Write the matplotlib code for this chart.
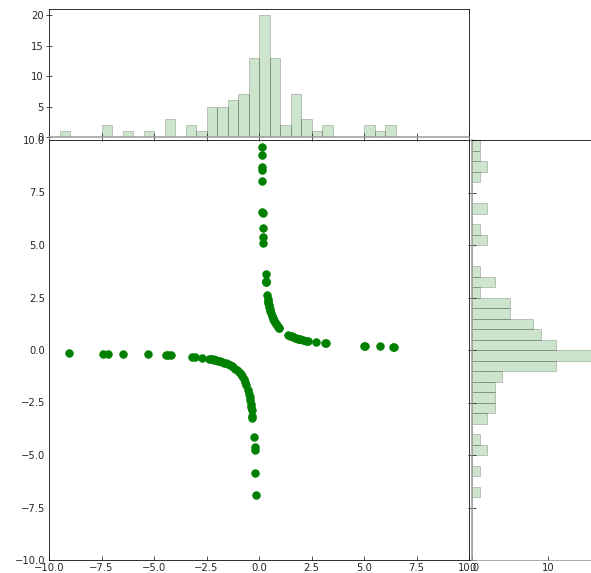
import matplotlib

matplotlib.use('Agg')
import matplotlib.pyplot as plt
import numpy as np
from matplotlib.ticker import MultipleLocator

# points (upper right branch, then lower left branch)
x_pos = [
    0.13, 0.13, 0.13, 0.14, 0.13, 0.16, 0.19, 0.20, 0.20, 0.20,
    0.32, 0.31, 0.32, 0.33, 0.38, 0.41, 0.43, 0.45, 0.47, 0.49,
    0.51, 0.54, 0.57, 0.62, 0.65, 0.68, 0.72, 0.76, 0.80, 0.86,
    0.90, 0.94, 0.97, 1.40, 1.46, 1.55, 1.63, 1.70, 1.78, 1.87,
    1.92, 1.97, 2.11, 2.25, 2.35, 2.71, 3.14, 3.19, 5.00, 5.05,
    5.76, 6.38, 6.44,
]
y_pos = [
    9.68, 9.29, 8.70, 8.57, 8.06, 6.55, 6.52, 5.79, 5.40, 5.08,
    3.62, 3.30, 3.22, 3.25, 2.63, 2.44, 2.33, 2.22, 2.14, 2.04,
    1.96, 1.85, 1.75, 1.62, 1.54, 1.47, 1.39, 1.32, 1.25, 1.17,
    1.11, 1.06, 1.03, 0.71, 0.68, 0.65, 0.61, 0.59, 0.56, 0.54,
    0.52, 0.51, 0.47, 0.45, 0.42, 0.37, 0.32, 0.31, 0.20, 0.20,
    0.17, 0.16, 0.155,
]
x_neg = [
    -9.03, -7.44, -7.20, -6.46, -5.30, -4.42, -4.32, -4.21, -3.21, -3.05,
    -2.73, -2.36, -2.28, -2.20, -2.12, -2.04, -1.95, -1.86, -1.76, -1.67,
    -1.57, -1.46, -1.38, -1.30, -1.22, -1.12, -1.04, -0.95, -0.86, -0.80,
    -0.73, -0.66, -0.60, -0.53, -0.48, -0.45, -0.42, -0.39, -0.37, -0.35,
    -0.32, -0.31, -0.22, -0.21, -0.20, -0.17, -0.14,
]
y_neg = [
    -0.13, -0.17, -0.17, -0.17, -0.21, -0.22, -0.23, -0.26, -0.33, -0.33,
    -0.38, -0.42, -0.43, -0.45, -0.47, -0.49, -0.51, -0.54, -0.57, -0.60,
    -0.64, -0.68, -0.72, -0.77, -0.82, -0.89, -0.96, -1.05, -1.16, -1.25,
    -1.37, -1.52, -1.67, -1.89, -2.08, -2.22, -2.38, -2.56, -2.70, -2.86,
    -3.12, -3.22, -4.13, -4.62, -4.74, -5.84, -6.90,
]

x = np.array(x_pos + x_neg)
y = np.array(y_pos + y_neg)
bins = np.arange(-10, 10.5, 0.5)

text_color = '#262626'
plt.rcParams.update({
    'font.family': 'DejaVu Sans',
    'font.size': 10,
    'xtick.color': text_color,
    'ytick.color': text_color,
    'xtick.labelcolor': text_color,
    'ytick.labelcolor': text_color,
})

W, H = 591, 573
fig = plt.figure(figsize=(W / 72, H / 72), dpi=72)

ax = fig.add_axes([49 / W, 13 / H, 420 / W, 420 / H])
ax_top = fig.add_axes([49 / W, 436 / H, 420 / W, 128 / H], sharex=ax)
ax_right = fig.add_axes([472 / W, 13 / H, 128 / W, 420 / H], sharey=ax)

ax.scatter(x, y, s=55, color='green', zorder=3)
ax.set_xlim(-10, 10)
ax.set_ylim(-10, 10)
ax.xaxis.set_major_locator(MultipleLocator(2.5))
ax.yaxis.set_major_locator(MultipleLocator(2.5))
ax.tick_params(axis='x', direction='in', length=4, pad=3)
ax.tick_params(axis='y', length=0, pad=4)

ax_top.hist(x, bins=bins, color='green', alpha=0.2, edgecolor='black', linewidth=1)
ax_top.yaxis.set_major_locator(MultipleLocator(5))
ax_top.tick_params(axis='x', direction='inout', length=8, labelbottom=False)
ax_top.tick_params(axis='y', direction='inout', length=6, pad=2)
ax_top.spines['bottom'].set_color('#999999')
ax_top.spines['bottom'].set_linewidth(1.5)

ax_right.hist(y, bins=bins, orientation='horizontal', color='green', alpha=0.2,
              edgecolor='black', linewidth=1)
ax_right.xaxis.set_major_locator(MultipleLocator(10))
ax_right.tick_params(axis='y', direction='inout', length=8, labelleft=False)
ax_right.tick_params(axis='x', direction='in', length=4, pad=3)
ax_right.spines['left'].set_color('#999999')
ax_right.spines['left'].set_linewidth(1.5)
ax_right.spines['bottom'].set_color('#999999')

fig.savefig('out.png', dpi=72)
